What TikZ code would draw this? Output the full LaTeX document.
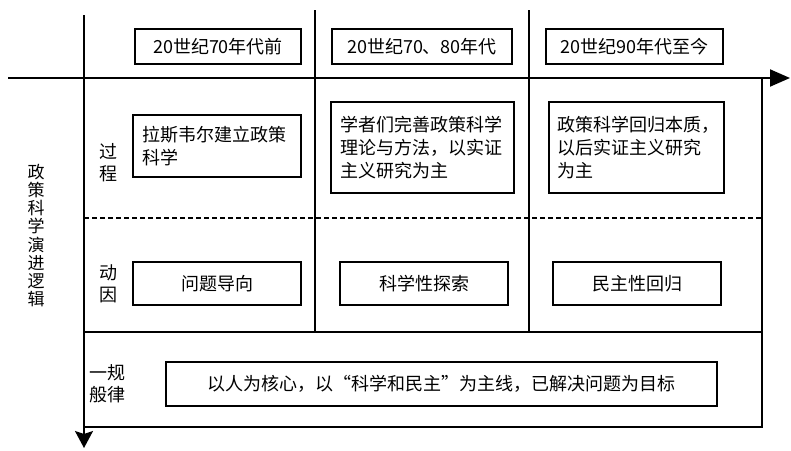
\documentclass[tikz,border=0pt]{standalone}
\usepackage{fontspec}
\setmainfont{Noto Sans CJK SC}
\usetikzlibrary{arrows.meta}
\begin{document}
\begin{tikzpicture}[x=1pt,y=-1pt,
  axis/.style={line width=2pt},
  grid/.style={line width=1.3pt},
  frame/.style={line width=1.6pt},
  box/.style={draw, line width=1.5pt, inner sep=0pt, font=\fontsize{18}{23}\selectfont},
  tbox/.style={box, align=left},
  lab/.style={inner sep=0pt, align=center, font=\fontsize{18}{22}\selectfont}]
\useasboundingbox (0,0) rectangle (791,450);
% coordinates
\coordinate (hs) at (8,78);
\coordinate (he) at (790,78);
\coordinate (vs) at (84,15);
\coordinate (ve) at (84,448);
\coordinate (c1t) at (315,10);
\coordinate (c1b) at (315,332);
\coordinate (c2t) at (529,10);
\coordinate (c2b) at (529,332);
\coordinate (rt) at (762,78);
\coordinate (rb) at (762,427);
\coordinate (lb) at (84,427);
\coordinate (rl) at (84,332);
\coordinate (rr) at (762,332);
\coordinate (dl) at (84,218);
\coordinate (dr) at (762,218);
% lines
\draw[axis, -{Triangle[length=20pt,width=17pt]}] (hs) -- (he);
\draw[axis, -{Stealth[length=17pt,width=18pt,inset=3pt]}] (vs) -- (ve);
\draw[grid] (c1t) -- (c1b);
\draw[grid] (c2t) -- (c2b);
\draw[frame] (rt) -- (rb) -- (lb);
\draw[frame] (rl) -- (rr);
\draw[line width=1.5pt, dash pattern=on 5pt off 3pt] (dl) -- (dr);
% top boxes
\node[box, minimum width=166pt, minimum height=35pt] (t1) at (218,46.5) {20世纪70年代前};
\node[box, minimum width=180pt, minimum height=35pt] (t2) at (422,46.5) {20世纪70、80年代};
\node[box, minimum width=177pt, minimum height=35pt] (t3) at (634.5,46.5) {20世纪90年代至今};
% process boxes
\node[tbox, minimum width=168pt, minimum height=62pt, text width=150pt] (p1) at (217,146) {拉斯韦尔建立政策\\科学};
\node[tbox, minimum width=183pt, minimum height=91pt, text width=165pt] (p2) at (422.5,147.5) {学者们完善政策科学\\理论与方法，以实证\\主义研究为主};
\node[tbox, minimum width=175pt, minimum height=91pt, text width=159pt] (p3) at (636.5,147.5) {政策科学回归本质，\\以后实证主义研究\\为主};
% motive boxes
\node[box, minimum width=168pt, minimum height=43pt] (m1) at (217,283.5) {问题导向};
\node[box, minimum width=168pt, minimum height=43pt] (m2) at (424,283.5) {科学性探索};
\node[box, minimum width=168pt, minimum height=43pt] (m3) at (637,283.5) {民主性回归};
% bottom box
\node[box, minimum width=551pt, minimum height=44pt] (b) at (441.5,384) {以人为核心，以“科学和民主”为主线，已解决问题为目标};
% labels
\node[lab] (l1) at (108,163) {过\\程};
\node[lab] (l2) at (108,284) {动\\因};
\node[lab] (l3) at (107.5,384) {一规\\般律};
\node[inner sep=0pt, align=center, font=\fontsize{17}{18.2}\selectfont] (title) at (36,235.5) {政\\策\\科\\学\\演\\进\\逻\\辑};
\end{tikzpicture}
\end{document}
